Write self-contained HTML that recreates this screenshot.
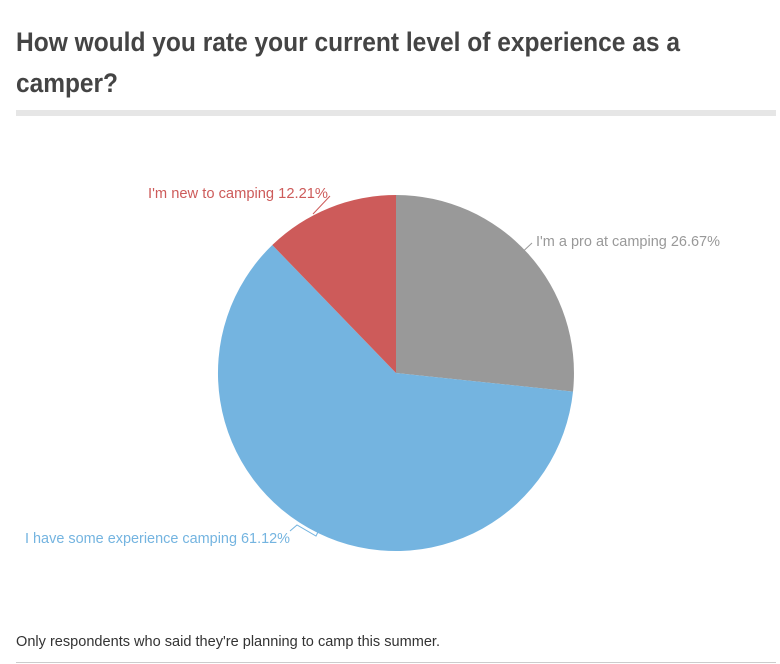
<!DOCTYPE html>
<html><head><style>
html,body{margin:0;padding:0;background:#fff;}
</style></head><body>
<svg width="780" height="664" xmlns="http://www.w3.org/2000/svg" style="display:block">
<text x="16" y="51" font-family="Liberation Sans, sans-serif" font-weight="bold" font-size="27" fill="#444" textLength="664" lengthAdjust="spacingAndGlyphs">How would you rate your current level of experience as a</text>
<text x="16" y="92" font-family="Liberation Sans, sans-serif" font-weight="bold" font-size="27" fill="#444" textLength="102" lengthAdjust="spacingAndGlyphs">camper?</text>
<rect x="16" y="110" width="760" height="6" fill="#e6e6e6"/>
<path d="M396,373 L396,195 A178,178 0 0,1 573,391.6 Z" fill="#999999"/>
<path d="M396,373 L573,391.6 A178,178 0 1,1 272.3,245 Z" fill="#74b4e0"/>
<path d="M396,373 L272.3,245 A178,178 0 0,1 396,195 Z" fill="#cd5b5a"/>
<polyline points="290,531 297,525 316,536 318,532" fill="none" stroke="#74b4e0" stroke-width="1"/>
<polyline points="313,214 330,196" fill="none" stroke="#cd5b5a" stroke-width="1"/>
<polyline points="516,258 532,243" fill="none" stroke="#999" stroke-width="1"/>
<g font-family="Liberation Sans, sans-serif" font-size="15">
<text x="148" y="198" fill="#cd5b5a" textLength="180" lengthAdjust="spacingAndGlyphs">I'm new to camping 12.21%</text>
<text x="536" y="246" fill="#999" textLength="184" lengthAdjust="spacingAndGlyphs">I'm a pro at camping 26.67%</text>
<text x="25" y="543" fill="#74b4e0" textLength="265" lengthAdjust="spacingAndGlyphs">I have some experience camping 61.12%</text>
<text x="16" y="646" fill="#333" textLength="424" lengthAdjust="spacingAndGlyphs">Only respondents who said they're planning to camp this summer.</text>
</g>
<rect x="16" y="662" width="760" height="1" fill="#ccc"/>
</svg>
</body></html>
